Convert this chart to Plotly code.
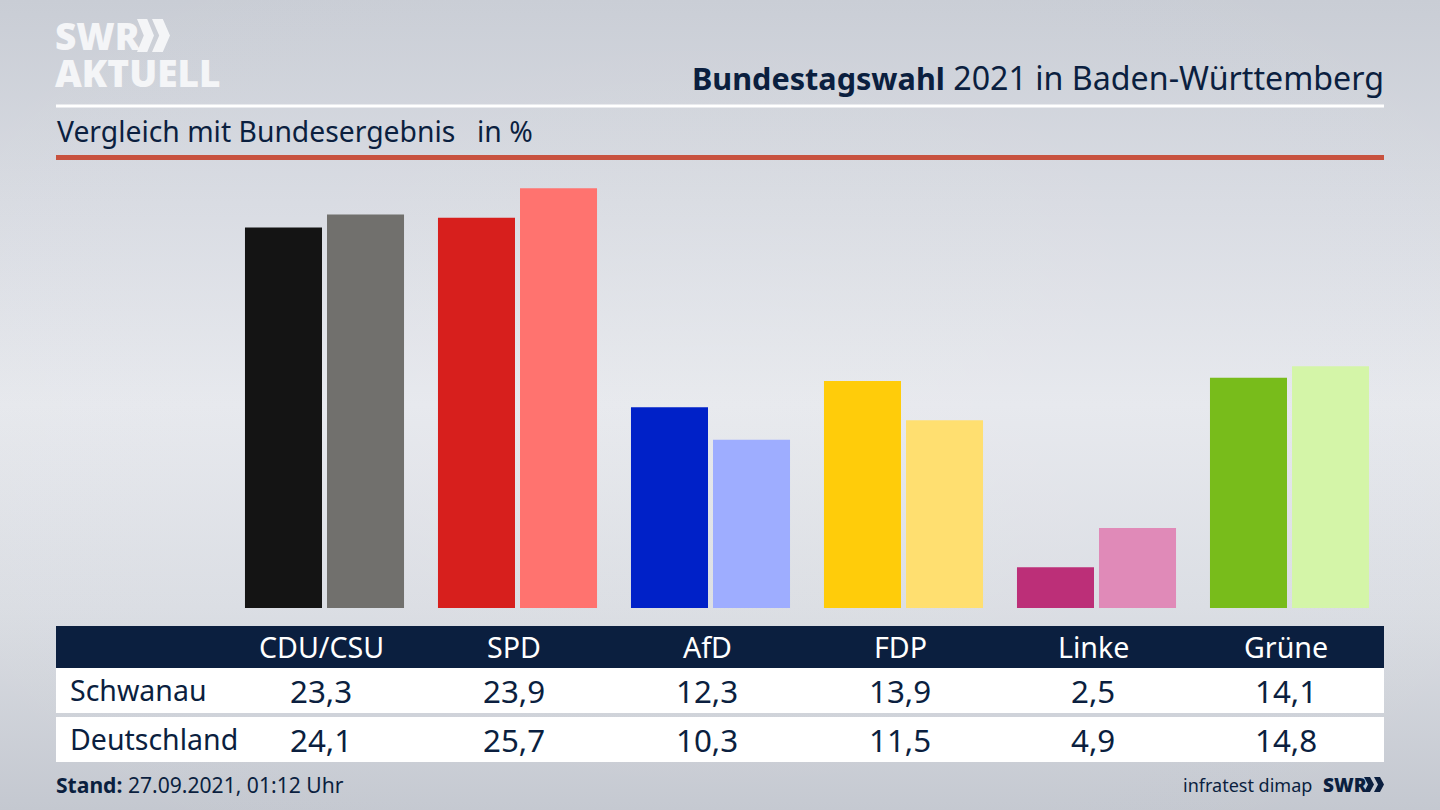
import base64
import plotly.graph_objects as go

parties = ["CDU/CSU", "SPD", "AfD", "FDP", "Linke", "Grüne"]
schwanau = [23.3, 23.9, 12.3, 13.9, 2.5, 14.1]
deutschland = [24.1, 25.7, 10.3, 11.5, 4.9, 14.8]
colors_local = ["#141414", "#d71f1d", "#0021c8", "#ffcc0a", "#bc2f78", "#78bc1b"]
colors_national = ["#71706d", "#ff736f", "#9eadff", "#ffdf70", "#e08ab8", "#d4f5a8"]
row_names = ["Schwanau", "Deutschland"]

W, H = 1440, 810
NAVY = "#0b1f3f"
LOGO = "#f4f5f7"
FONT = "Noto Sans"


def fmt(v):
    return f"{v:.1f}".replace(".", ",")


def X(p):
    return p / W


def Y(p):
    return 1 - p / H


def rect(x0, y0, x1, y1, color):
    return dict(type="rect", xref="paper", yref="paper", x0=X(x0), x1=X(x1), y0=Y(y0), y1=Y(y1),
                fillcolor=color, line_width=0, layer="below")


def chevron(x, y, w, h, color):
    t = w * 0.6
    pts = [(x, y), (x + t, y), (x + w, y + h / 2), (x + t, y + h), (x, y + h), (x + w - t, y + h / 2)]
    d = "M" + " L".join(f"{X(a):.5f},{Y(b):.5f}" for a, b in pts) + " Z"
    return dict(type="path", xref="paper", yref="paper", path=d, fillcolor=color, line_width=0, layer="above")


def note(x, y, text, size, color=NAVY, anchor="left", xref="paper", xshift=0, family=FONT, weight=None):
    font = dict(family=family, size=size, color=color)
    if weight:
        font["weight"] = weight
    return dict(x=X(x) if xref == "paper" else x, y=Y(y), xref=xref, yref="paper", text=text, showarrow=False,
                xanchor=anchor, yanchor="middle", xshift=xshift, align=anchor, borderpad=0, borderwidth=0,
                font=font)


svg = f"""<svg xmlns='http://www.w3.org/2000/svg' width='{W}' height='{H}'>
<defs><linearGradient id='g' x1='0' y1='0' x2='0' y2='1'>
<stop offset='0' stop-color='#c9cdd5'/><stop offset='0.25' stop-color='#d8dbe2'/><stop offset='0.5' stop-color='#e6e8ed'/>
<stop offset='0.75' stop-color='#dadde3'/><stop offset='1' stop-color='#c4c8d0'/>
</linearGradient>
<radialGradient id='r' cx='0.5' cy='0.5' r='0.7'>
<stop offset='0' stop-color='#ffffff' stop-opacity='0.08'/><stop offset='1' stop-color='#ffffff' stop-opacity='0'/>
</radialGradient></defs>
<rect width='{W}' height='{H}' fill='url(#g)'/><rect width='{W}' height='{H}' fill='url(#r)'/></svg>"""
bg = "data:image/svg+xml;base64," + base64.b64encode(svg.encode()).decode()

fig = go.Figure()
fig.add_bar(x=parties, y=schwanau, name=row_names[0], marker=dict(color=colors_local, line_width=0))
fig.add_bar(x=parties, y=deutschland, name=row_names[1], marker=dict(color=colors_national, line_width=0))

shapes = [
    rect(56, 104.5, 1384, 107.5, "#ffffff"),
    rect(56, 155, 1384, 160, "#c8523f"),
    rect(56, 626, 1384, 668, NAVY),
    rect(56, 668, 1384, 713, "#ffffff"),
    rect(56, 717, 1384, 762, "#ffffff"),
    chevron(137, 19, 17, 33, LOGO),
    chevron(152, 19, 18, 33, LOGO),
    chevron(1364, 777, 10, 15, NAVY),
    chevron(1374, 777, 10, 15, NAVY),
]

annotations = [
    note(55, 36, "SWR", 37, LOGO, weight=900),
    note(55, 72, "AKTUELL", 37, LOGO, weight=900),
    note(1384, 77, "<span style='font-size:30.6px'><b>Bundestagswahl</b></span> 2021 in Baden-Württemberg",
         32.2, anchor="right"),
    note(57, 131.5, "Vergleich mit Bundesergebnis", 28.3),
    note(477, 131.5, "in %", 28.3),
    note(56, 784.5, "<b>Stand:</b> 27.09.2021, 01:12 Uhr", 21.1),
    note(1312, 784.5, "infratest dimap", 18, anchor="right"),
    note(1323, 785, "SWR", 19, weight=900),
    note(70, 690, row_names[0], 28.5),
    note(70, 739, row_names[1], 28.5),
]
for i, p in enumerate(parties):
    annotations.append(note(i, 646.5, p, 28.6, "#ffffff", "center", "x", -3.5))
    annotations.append(note(i, 691, fmt(schwanau[i]), 31.3, NAVY, "center", "x", -3.5))
    annotations.append(note(i, 740, fmt(deutschland[i]), 31.3, NAVY, "center", "x", -3.5))

fig.update_layout(
    width=W, height=H, autosize=False,
    margin=dict(l=0, r=0, t=0, b=0, pad=0),
    barmode="group", bargap=0.150, bargroupgap=0.061,
    showlegend=False,
    paper_bgcolor="#dcdfe5", plot_bgcolor="rgba(0,0,0,0)",
    xaxis=dict(visible=False, type="category", categoryorder="array", categoryarray=parties,
               domain=[228 / W, 1386 / W]),
    yaxis=dict(visible=False, range=[0, 448 / 16.33], domain=[1 - 608 / H, 1 - 160 / H]),
    shapes=shapes, annotations=annotations,
    images=[dict(source=bg, xref="paper", yref="paper", x=0, y=1, sizex=1, sizey=1,
                 xanchor="left", yanchor="top", sizing="stretch", layer="below")],
)
fig.write_html("out.html", config=dict(displayModeBar=False),
               post_script="document.body.style.margin='0';document.body.style.overflow='hidden';")
